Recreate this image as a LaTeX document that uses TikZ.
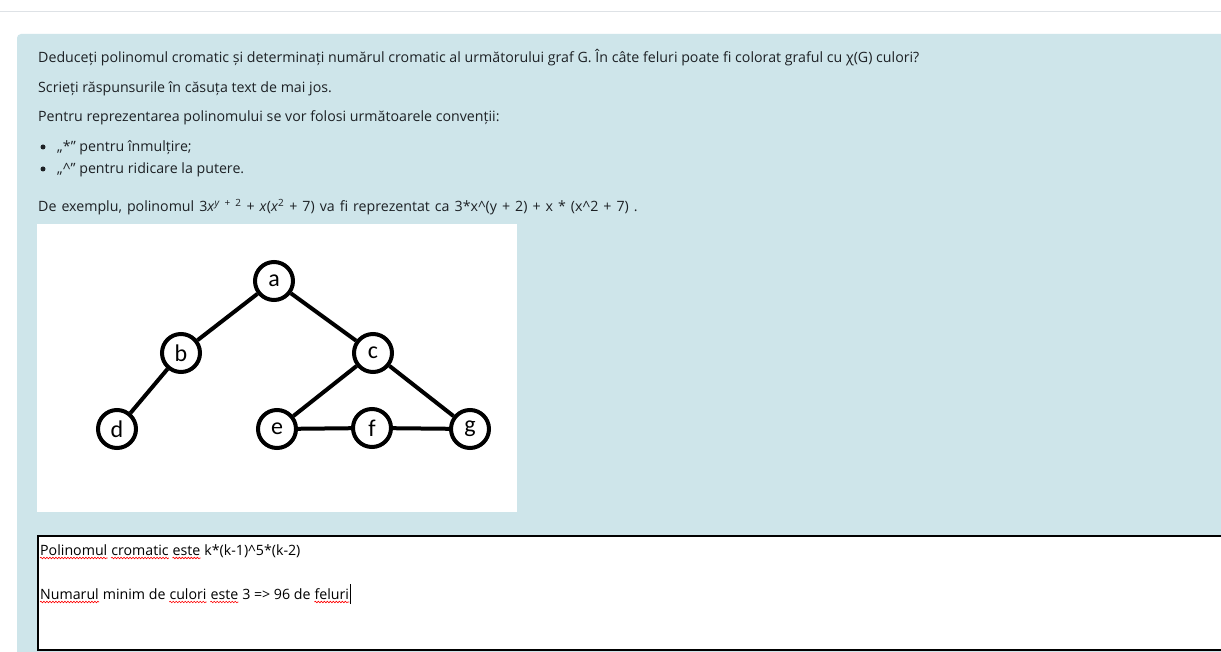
\documentclass[tikz,border=0pt]{standalone}
\usepackage{fontspec}
\usetikzlibrary{positioning,decorations.pathmorphing}
\setmainfont{Open Sans}
\newfontfamily\lblfont{Carlito}
\definecolor{panel}{RGB}{206,229,234}
\definecolor{txt}{HTML}{1D2125}
\definecolor{rule}{RGB}{222,226,230}

\begin{document}
\begin{tikzpicture}[x=1pt,y=-1pt,
  vtx/.style={draw,circle,line width=4pt,minimum size=38pt,inner sep=0pt,font=\lblfont\fontsize{24}{24}\selectfont},
  para/.style={anchor=base west,inner sep=0pt,text=txt,font=\fontsize{14.2}{17}\selectfont},
  word/.style={anchor=base west,inner sep=0pt,text=black,font=\fontsize{14.2}{17}\selectfont},
  typo/.style={red,line width=0.6pt,decorate,decoration={snake,amplitude=0.8pt,segment length=3pt}}]
\clip (0,0) rectangle (1221,652);
\fill[white] (0,0) rectangle (1221,652);
\draw[rule,line width=1pt] (0,12) -- (1221,12);
\fill[panel,rounded corners=4pt] (17,34) rectangle (1260,700);

% question
\node[para](q1) at (38,63){Deduceți polinomul cromatic și determinați numărul cromatic al următorului graf G. În câte feluri poate fi colorat graful cu χ(G) culori?};
\node[para](q2) at (38,93){Scrieți răspunsurile în căsuța text de mai jos.};
\node[para](q3) at (38,122){Pentru reprezentarea polinomului se vor folosi următoarele convenții:};
\fill[txt] (43,147) circle (2.5);
\fill[txt] (43,169) circle (2.5);
\node[para](li1) at (57,152){„*” pentru înmulțire;};
\node[para](li2) at (57,174){„\^{}” pentru ridicare la putere.};
\node[para](ex) at (38,212){\spaceskip=5pt De exemplu, polinomul 3\textit{x}\textsuperscript{\textit{y} + 2} + \textit{x}(\textit{x}\textsuperscript{2} + 7) va fi reprezentat ca 3*x\^{}(y + 2) + x * (x\^{}2 + 7) .};

% graph
\fill[white] (37,224) rectangle (517,512);
\node[vtx](a) at (274,281){a};
\node[vtx](b) at (181,353){b};
\node[vtx](c) at (373,353){c};
\node[vtx](d) at (117,429){d};
\node[vtx](e) at (277,429){e};
\node[vtx](f) at (372,428){f};
\node[vtx](g) at (470,429){g};
\draw[line width=4pt] (b)--(a)--(c)--(g)--(f)--(e)--(c);
\draw[line width=4pt] (b)--(d);

% answer box
\draw[line width=2.5pt,fill=white] (38,536) rectangle (1260,650);
\node[word](p1) at (40,555){Polinomul};
\node[word,base right=3.6pt of p1](p2){cromatic};
\node[word,base right=3.6pt of p2](p3){este};
\node[word,base right=3.6pt of p3](p4){k*(k-1)\^{}5*(k-2)};
\node[word](n1) at (40,599){Numarul};
\node[word,base right=3.6pt of n1](n2){minim de};
\node[word,base right=3.6pt of n2](n3){culori};
\node[word,base right=3.6pt of n3](n4){este};
\node[word,base right=3.6pt of n4](n5){3 => 96 de};
\node[word,base right=3.6pt of n5](n6){feluri};
\foreach \w in {p1,p2,p3,n1,n3,n4,n6}
  \draw[typo] ([yshift=-3pt]\w.base west) -- ([yshift=-3pt]\w.base east);
\draw[line width=1pt] ([xshift=1pt,yshift=-5pt]n6.base east) -- ++(0,-20);
\end{tikzpicture}
\end{document}
